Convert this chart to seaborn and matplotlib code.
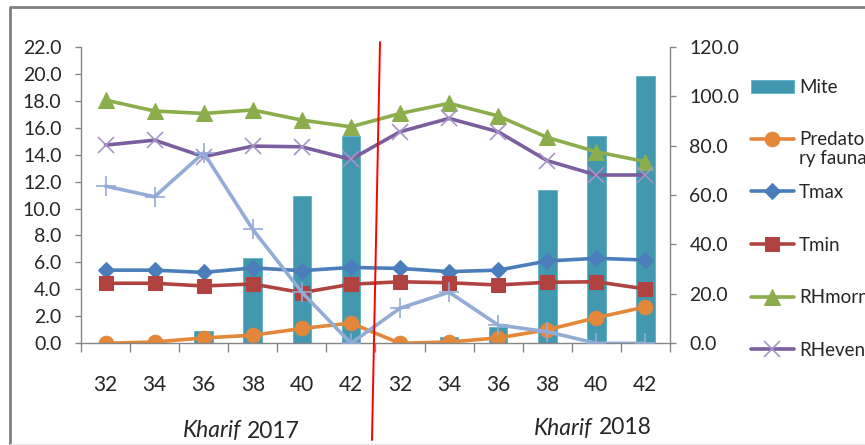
import numpy as np
import pandas as pd
import matplotlib.pyplot as plt
import seaborn as sns
from matplotlib.lines import Line2D
from matplotlib.ticker import FormatStrFormatter, FixedLocator


# data (std weeks, Kharif 2017 then Kharif 2018)
weeks = [32, 34, 36, 38, 40, 42, 32, 34, 36, 38, 40, 42]
season_labels = ["Kharif", "2017", "Kharif", "2018"]

# left axis
mite = [0.0, 0.1, 0.9, 6.3, 10.9, 15.4, 0.0, 0.5, 1.2, 11.4, 15.4, 19.8]
predatory = [0.0, 0.1, 0.4, 0.6, 1.1, 1.5, 0.0, 0.1, 0.4, 1.0, 1.9, 2.7]

# right axis
tmax = [29.6, 29.6, 28.7, 30.5, 29.4, 30.7, 30.3, 29.0, 29.6, 33.3, 34.4, 33.7]
tmin = [24.3, 24.3, 23.2, 24.0, 20.5, 23.9, 24.9, 24.5, 23.6, 24.7, 24.9, 22.0]
rh_morn = [98.4, 94.0, 93.0, 94.4, 90.3, 87.6, 93.0, 97.1, 92.0, 83.3, 77.5, 73.5]
rh_even = [80.2, 82.2, 75.5, 79.8, 79.5, 74.4, 85.6, 91.0, 85.6, 73.9, 68.1, 68.1]
rain = [63.6, 59.3, 77.1, 46.1, 20.7, 0.0, 14.2, 20.7, 7.4, 4.7, 0.0, 0.0]

# legend text, "Predatory fauna" is wrapped in two lines in the original
legend_order = ["Mite", "Predato", "Tmax", "Tmin", "RHmorn", "RHeven"]
pred_wrap = "ry fauna"

df = pd.DataFrame({"pos": np.arange(len(weeks)), "week": weeks,
                   "mite": mite, "predatory": predatory,
                   "tmax": tmax, "tmin": tmin,
                   "rh_morn": rh_morn, "rh_even": rh_even, "rain": rain})


# style
sns.set_style("white")
plt.rcParams["font.family"] = ["Lato", "DejaVu Sans"]
plt.rcParams["font.size"] = 13.5
grey = "#868686"

fig = plt.figure(figsize=(8.65, 4.45), dpi=100)
ax = fig.add_axes([0.0936, 0.2285, 0.6809, 0.6665])
ax2 = ax.twinx()


# left axis: bars + predatory fauna
sns.barplot(data=df, x="pos", y="mite", ax=ax, color="#4198AF", saturation=1,
            width=0.38, native_scale=True, label="Mite", edgecolor="#5fb0c4", linewidth=0.6)
sns.lineplot(data=df, x="pos", y="predatory", ax=ax, color="#E3873A", lw=2.6,
             marker="o", markersize=10.5, mec="#E3873A", label="Predato")

# right axis: weather lines
line_kw = dict(lw=2.6, ax=ax2)
sns.lineplot(data=df, x="pos", y="tmax", color="#4A7DBA", marker="D", markersize=8,
             mec="#4A7DBA", label="Tmax", **line_kw)
sns.lineplot(data=df, x="pos", y="tmin", color="#B0433F", marker="s", markersize=10,
             mec="#B0433F", label="Tmin", **line_kw)
sns.lineplot(data=df, x="pos", y="rh_morn", color="#8CAD4C", marker="^", markersize=11,
             mec="#8CAD4C", label="RHmorn", **line_kw)
sns.lineplot(data=df, x="pos", y="rh_even", color="#7B5E9E", marker="x", markersize=11,
             mec="#A795C8", mew=1.2, label="RHeven", **line_kw)
sns.lineplot(data=df, x="pos", y="rain", color="#93ACD6", marker="+", markersize=14,
             mec="#93ACD6", mew=1.2, legend=False, **line_kw)

for a in (ax, ax2):
    if a.get_legend() is not None:
        a.get_legend().remove()


# axes
ax.set_xlim(-0.5, len(weeks) - 0.5)
ax.set_ylim(0, 22)
ax2.set_ylim(0, 120)
ax.set_yticks(np.arange(0, 22.1, 2))
ax2.set_yticks(np.arange(0, 121, 20))
ax.yaxis.set_major_formatter(FormatStrFormatter("%.1f"))
ax2.yaxis.set_major_formatter(FormatStrFormatter("%.1f"))

ax.xaxis.set_major_locator(FixedLocator(np.arange(-0.5, len(weeks), 1)))
ax.xaxis.set_minor_locator(FixedLocator(df["pos"]))
ax.set_xticklabels([])
ax.set_xticklabels(weeks, minor=True)
ax.tick_params(axis="x", which="major", direction="out", length=6.5, color=grey, width=1, bottom=True)
ax.tick_params(axis="x", which="minor", length=0, pad=23, labelsize=15)
ax.tick_params(axis="y", direction="out", length=4.5, color=grey, width=1, pad=9.5,
               left=True, labelsize=14)
ax2.tick_params(axis="y", direction="out", length=4.5, color=grey, width=1, pad=9.5,
                right=True, labelsize=14)
ax.set_xlabel("")
ax.set_ylabel("")
ax2.set_ylabel("")

for a in (ax, ax2):
    a.spines["top"].set_visible(False)
    for s in ("left", "right", "bottom"):
        a.spines[s].set_color(grey)
        a.spines[s].set_linewidth(1)
ax.spines["right"].set_visible(False)
ax2.spines["left"].set_visible(False)
ax2.spines["bottom"].set_visible(False)


# legend (cut at the right edge like the original)
h1, l1 = ax.get_legend_handles_labels()
h2, l2 = ax2.get_legend_handles_labels()
lookup = dict(zip(l1 + l2, h1 + h2))
leg = fig.legend([lookup[k] for k in legend_order], legend_order, loc="upper left",
                 bbox_to_anchor=(0.857, 0.844), frameon=False, borderpad=0, labelspacing=1.9,
                 handlelength=2.3, handletextpad=0.27, fontsize=13.5)
fig.canvas.draw()
pred_text = leg.get_texts()[1]
fig.add_artist(plt.Annotation(pred_wrap, xy=(0, 0), xycoords=pred_text, xytext=(0, -1),
                              textcoords="offset points", ha="left", va="top", fontsize=13.5))


# season labels under the ticks
fig.text(241 / 865, 1 - 431 / 445, season_labels[0], style="italic", ha="right", va="center", fontsize=16.5)
fig.text(247 / 865, 1 - 431 / 445, season_labels[1], ha="left", va="center", fontsize=16.5)
fig.text(592 / 865, 1 - 428 / 445, season_labels[2], style="italic", ha="right", va="center", fontsize=16.5)
fig.text(599 / 865, 1 - 428 / 445, season_labels[3], ha="left", va="center", fontsize=16.5)

# red divider between the two seasons
fig.add_artist(Line2D([380 / 865, 372 / 865], [1 - 42 / 445, 1 - 440 / 445], color="red", lw=1.4))

# chart area border
fig.add_artist(Line2D([10 / 865, 10 / 865, 1.0], [1 - 444 / 445, 1 - 7 / 445, 1 - 7 / 445],
                      color="#808080", lw=2))
fig.add_artist(Line2D([10 / 865, 1.0], [1 - 444 / 445, 1 - 444 / 445], color="#e8e8e8", lw=1))

plt.savefig("out.png", dpi=100)
